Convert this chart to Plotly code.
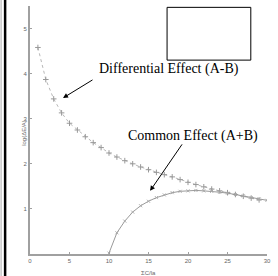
import plotly.graph_objects as go

# Data
diff_x = list(range(1, 30))
diff_y = [4.58, 3.87, 3.44, 3.13, 2.90, 2.75, 2.60, 2.47, 2.36, 2.24,
          2.15, 2.07, 2.00, 1.93, 1.87, 1.81, 1.76, 1.71, 1.65, 1.59,
          1.54, 1.49, 1.44, 1.40, 1.36, 1.32, 1.28, 1.24, 1.20]

common_x = list(range(10, 31))
common_y = [0.02, 0.47, 0.73, 0.93, 1.07, 1.17, 1.25, 1.31, 1.36, 1.39,
            1.40, 1.41, 1.40, 1.39, 1.37, 1.35, 1.32, 1.29, 1.25, 1.22, 1.19]

x_ticks = [0, 5, 10, 15, 20, 25, 30]
y_ticks = [1, 2, 3, 4, 5]

label_diff = "Differential Effect (A-B)"
label_common = "Common Effect (A+B)"
x_title = "ΣC/la"
y_title = "log(ΔE/A)"

fig = go.Figure()
fig.add_trace(go.Scatter(
    x=diff_x, y=diff_y, mode="lines+markers",
    line=dict(color="#b8b8b8", width=1, dash="dot"),
    marker=dict(symbol="cross-thin", size=4, color="#999999",
                line=dict(color="#999999", width=1)),
    showlegend=False))
fig.add_trace(go.Scatter(
    x=common_x, y=common_y, mode="lines+markers",
    line=dict(color="#9a9a9a", width=1),
    marker=dict(symbol="x-thin", size=3, color="#aaaaaa",
                line=dict(color="#aaaaaa", width=1)),
    showlegend=False))

tickfont = dict(size=6, color="#666666", family="Liberation Sans")
fig.update_layout(
    width=278, height=276,
    margin=dict(l=30, r=11, t=6, b=22),
    paper_bgcolor="white", plot_bgcolor="white",
    font=dict(family="Liberation Serif", color="black"),
    xaxis=dict(range=[0, 30], tickvals=x_ticks, showgrid=False, zeroline=False,
               showline=True, linecolor="#a0a0a0", linewidth=2,
               ticks="inside", ticklen=2, tickcolor="#a0a0a0",
               tickfont=tickfont, automargin=False),
    yaxis=dict(range=[0, 5.5], tickvals=y_ticks, showgrid=False, zeroline=False,
               showline=True, linecolor="#a0a0a0", linewidth=2,
               ticks="inside", ticklen=2, tickcolor="#a0a0a0",
               tickfont=tickfont, automargin=False),
)

# Axis titles
fig.add_annotation(x=15, y=-0.058, xref="x", yref="paper", text=x_title,
                   showarrow=False, yanchor="top", font=tickfont)
fig.add_annotation(x=-0.045, y=0.49, xref="paper", yref="paper", text=y_title,
                   showarrow=False, textangle=-90, font=tickfont)

# Frame lines on left
fig.add_shape(type="line", xref="paper", yref="paper",
              x0=-0.122, x1=-0.122, y0=-0.09, y1=1.03,
              line=dict(color="#aaaaaa", width=1))
fig.add_shape(type="line", xref="paper", yref="paper",
              x0=-0.105, x1=-0.105, y0=-0.09, y1=1.03,
              line=dict(color="black", width=2.5))

# Empty box
fig.add_shape(type="rect", xref="x", yref="y",
              x0=17.35, x1=27.95, y0=4.30, y1=5.47,
              line=dict(color="black", width=1), fillcolor="white")

# Text labels
fig.add_annotation(x=17.6, y=4.1, xref="x", yref="y", text=label_diff,
                   showarrow=False, font=dict(size=14, family="Liberation Serif"))
fig.add_annotation(x=20.6, y=2.61, xref="x", yref="y", text=label_common,
                   showarrow=False, font=dict(size=14, family="Liberation Serif"))

# Arrows
fig.add_annotation(x=4.18, y=3.46, xref="x", yref="y", text="",
                   showarrow=True, ax=31, ay=-19, arrowhead=2, arrowsize=1,
                   arrowwidth=1, arrowcolor="black")
fig.add_annotation(x=15.2, y=1.40, xref="x", yref="y", text="",
                   showarrow=True, ax=33, ay=-48, arrowhead=2, arrowsize=1,
                   arrowwidth=1, arrowcolor="black")

fig.write_html("out.html", config={"displayModeBar": False},
               post_script="document.body.style.margin='0px';document.body.style.overflow='hidden';")
